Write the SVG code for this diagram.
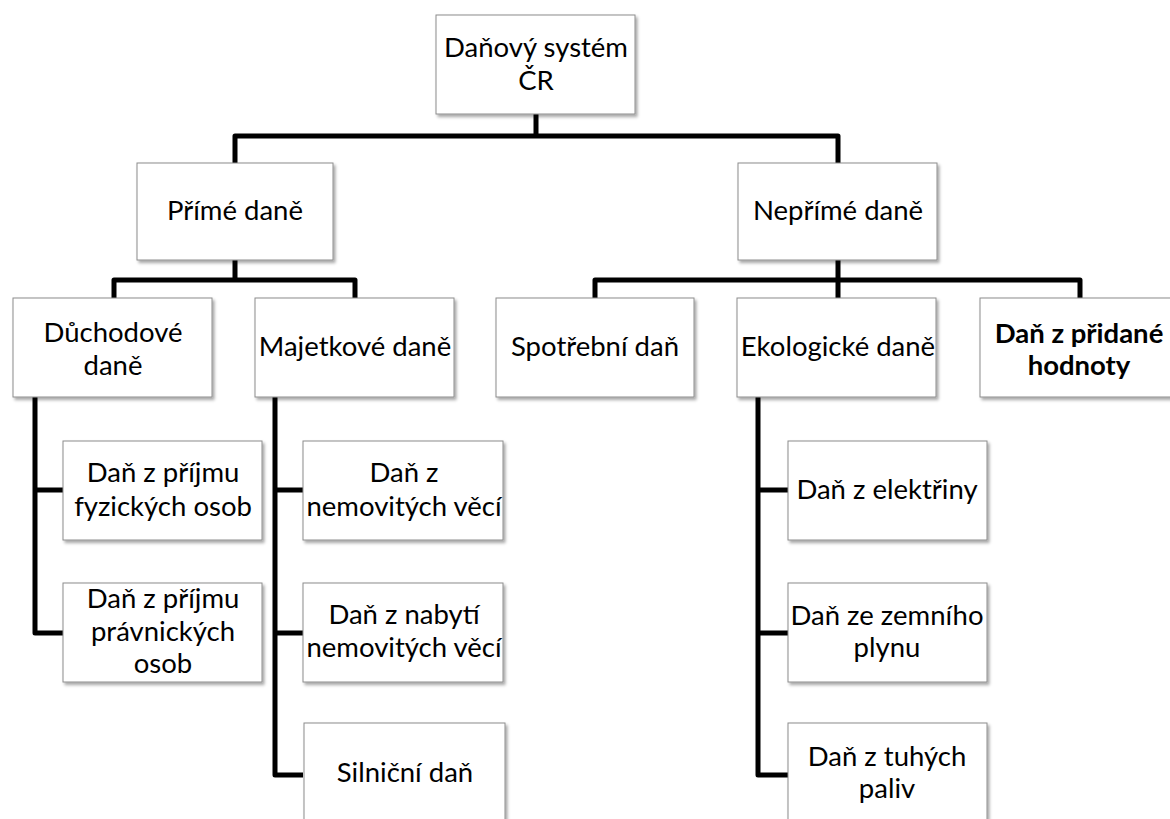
<svg xmlns="http://www.w3.org/2000/svg" width="1170" height="819" viewBox="0 0 1170 819">
  <defs>
    <filter id="shadow" x="-10%" y="-10%" width="125%" height="130%">
      <feDropShadow dx="2" dy="2.5" stdDeviation="1.5" flood-color="#000" flood-opacity="0.35"/>
    </filter>
  </defs>
  <style>
    .box { fill: #fff; stroke: #8c8c8c; stroke-width: 1; filter: url(#shadow); }
    .lbl { font-family: Lato, "Open Sans", sans-serif; font-size: 27.5px; fill: #000; text-anchor: middle; }
    .bold { font-weight: bold; }
    .link { fill: none; stroke: #000; stroke-width: 5; stroke-linejoin: round; stroke-linecap: butt; }
  </style>
  <rect width="1170" height="819" fill="#fff"/>

  <!-- connectors -->
  <g id="connectors">
    <path class="link" d="M536 114 V136 M235 163 V136 H838 V163"/>
    <path class="link" d="M235 260 V280 M114 298 V280 H355 V298"/>
    <path class="link" d="M838 260 V280 M595 298 V280 H1080 V298 M838 280 V298"/>
    <path class="link" d="M35 397 V633 H63 M35 490 H63"/>
    <path class="link" d="M275 397 V775 H303 M275 490 H303 M275 633 H303"/>
    <path class="link" d="M758 397 V775 H788 M758 490 H788 M758 633 H788"/>
  </g>

  <g id="root">
    <rect class="box" x="436" y="15" width="199" height="99"/>
    <text class="lbl" x="536" y="57">Daňový systém</text>
    <text class="lbl" x="536" y="90">ČR</text>
  </g>

  <g id="prime">
    <rect class="box" x="137" y="163" width="196" height="97"/>
    <text class="lbl" x="235" y="220">Přímé daně</text>
  </g>
  <g id="neprime">
    <rect class="box" x="738" y="163" width="199" height="97"/>
    <text class="lbl" x="838" y="220">Nepřímé daně</text>
  </g>

  <g id="duchodove">
    <rect class="box" x="13" y="298" width="199" height="99"/>
    <text class="lbl" x="113" y="342">Důchodové</text>
    <text class="lbl" x="113" y="375">daně</text>
  </g>
  <g id="majetkove">
    <rect class="box" x="255" y="298" width="199" height="99"/>
    <text class="lbl" x="355" y="356">Majetkové daně</text>
  </g>
  <g id="spotrebni">
    <rect class="box" x="496" y="298" width="198" height="99"/>
    <text class="lbl" x="595" y="356">Spotřební daň</text>
  </g>
  <g id="ekologicke">
    <rect class="box" x="737" y="298" width="199" height="99"/>
    <text class="lbl" x="838" y="356">Ekologické daně</text>
  </g>
  <g id="dph">
    <rect class="box" x="980" y="298" width="200" height="99"/>
    <text class="lbl bold" x="1079" y="343">Daň z přidané</text>
    <text class="lbl bold" x="1079" y="375">hodnoty</text>
  </g>

  <g id="dpfo">
    <rect class="box" x="63" y="441" width="199" height="99"/>
    <text class="lbl" x="163" y="482">Daň z příjmu</text>
    <text class="lbl" x="163" y="516">fyzických osob</text>
  </g>
  <g id="dppo">
    <rect class="box" x="63" y="583" width="199" height="99"/>
    <text class="lbl" x="163" y="608">Daň z příjmu</text>
    <text class="lbl" x="163" y="641">právnických</text>
    <text class="lbl" x="163" y="673">osob</text>
  </g>

  <g id="nemovite">
    <rect class="box" x="303" y="441" width="200" height="99"/>
    <text class="lbl" x="404" y="482">Daň z</text>
    <text class="lbl" x="404" y="516">nemovitých věcí</text>
  </g>
  <g id="nabyti">
    <rect class="box" x="303" y="583" width="200" height="99"/>
    <text class="lbl" x="404" y="624">Daň z nabytí</text>
    <text class="lbl" x="404" y="657">nemovitých věcí</text>
  </g>
  <g id="silnicni">
    <rect class="box" x="304" y="723" width="201" height="99"/>
    <text class="lbl" x="405" y="782">Silniční daň</text>
  </g>

  <g id="elektrina">
    <rect class="box" x="788" y="441" width="199" height="99"/>
    <text class="lbl" x="887" y="499">Daň z elektřiny</text>
  </g>
  <g id="plyn">
    <rect class="box" x="788" y="583" width="199" height="99"/>
    <text class="lbl" x="887" y="625">Daň ze zemního</text>
    <text class="lbl" x="887" y="657">plynu</text>
  </g>
  <g id="paliva">
    <rect class="box" x="788" y="723" width="199" height="99"/>
    <text class="lbl" x="887" y="766">Daň z tuhých</text>
    <text class="lbl" x="887" y="798">paliv</text>
  </g>
</svg>
